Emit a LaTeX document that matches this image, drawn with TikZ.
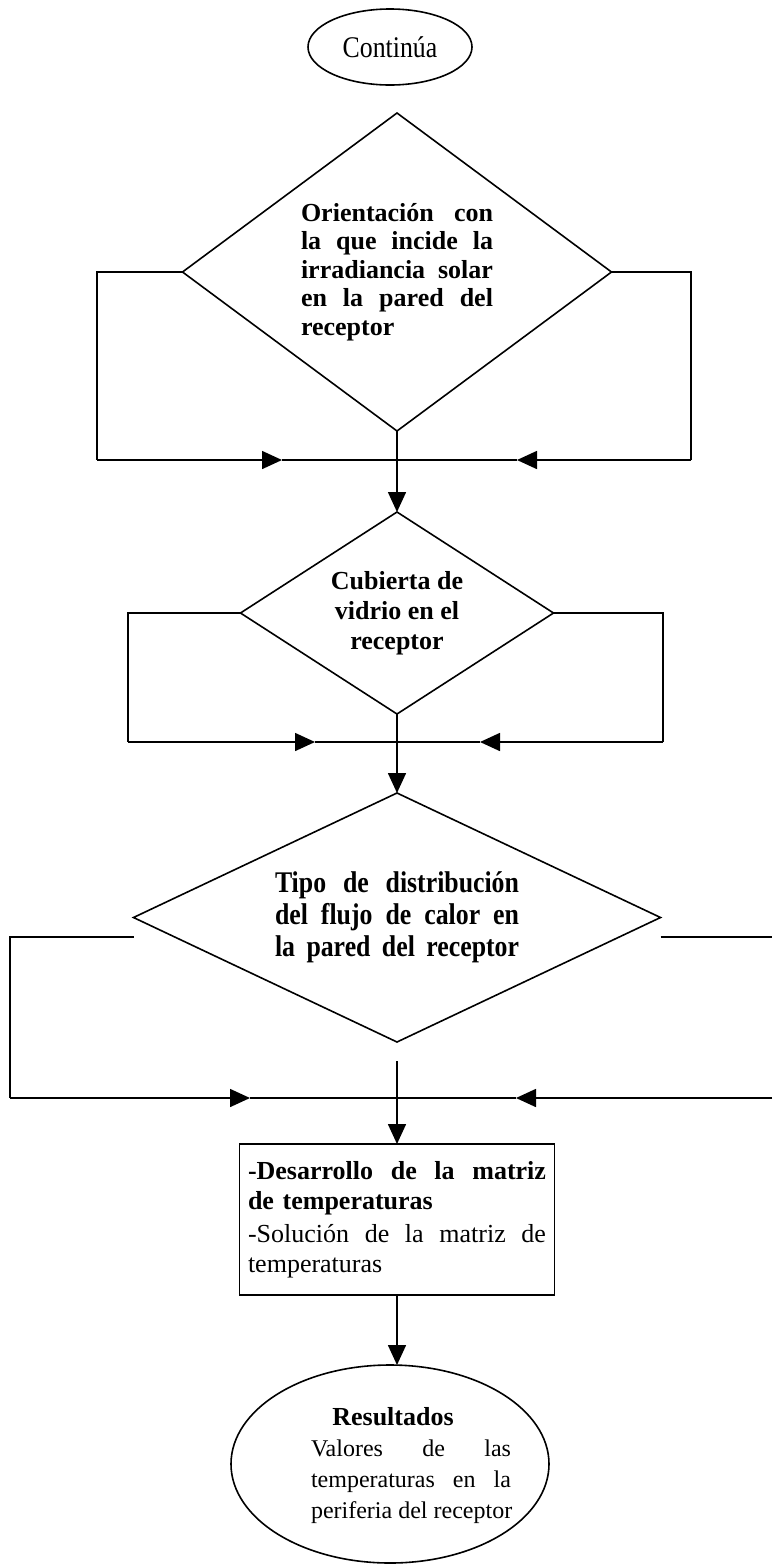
\documentclass[tikz,border=0pt]{standalone}
\usepackage{fontspec}
\setmainfont{Liberation Serif}
\newfontfamily\narrowserif[FakeStretch=0.86]{Liberation Serif}
\usetikzlibrary{shapes.geometric,arrows.meta,calc}
% a line of text spread to a given width (justified line);
% interword glue is made stretchable again inside ragged nodes
\newcommand{\fillline}[2]{{\spaceskip=0pt\xspaceskip=0pt\makebox[#1][s]{#2}}}
\begin{document}
\begin{tikzpicture}[x=0.5pt,y=-0.5pt,
  every node/.style={inner sep=0pt, outer sep=0pt},
  outline/.style={draw, line width=0.8pt},
  decision/.style={outline, diamond, align=center},
  terminal/.style={outline, ellipse, align=center},
  process/.style={outline, rectangle},
  link/.style={line width=0.8pt},
  flow/.style={link, -{Triangle[length=10pt,width=9pt]}}]
\useasboundingbox (0,0) rectangle (772,1564);

% ---- nodes ----
\node[terminal, minimum width=82pt, minimum height=38pt,
      font=\narrowserif\fontsize{15}{17}\selectfont] (start) at (390,47) {Continúa};

\node[decision, minimum width=214.5pt, minimum height=159pt, aspect=1.35,
      font=\bfseries\fontsize{13}{14.25}\selectfont] (d1) at (397,272)
  {\fillline{96pt}{Orientación con}\\
   \fillline{96pt}{la que incide la}\\
   \fillline{96pt}{irradiancia solar}\\
   \fillline{96pt}{en la pared del}\\
   \makebox[96pt][l]{receptor}};

\node[decision, minimum width=156.5pt, minimum height=101pt, aspect=1.55,
      font=\bfseries\fontsize{13}{15}\selectfont] (d2) at (397,613)
  {Cubierta de\\vidrio en el\\receptor};

\node[decision, minimum width=263.5pt, minimum height=124.5pt, aspect=2.12,
      font=\narrowserif\bfseries\fontsize{15}{16}\selectfont] (d3) at (397,917.5)
  {\fillline{122pt}{Tipo de distribución}\\
   \fillline{122pt}{del flujo de calor en}\\
   \fillline{122pt}{la pared del receptor}};

\node[process, text width=149pt, minimum height=75.5pt, inner xsep=4.25pt,
      align=left, font=\fontsize{13}{15}\selectfont] (mbox) at (397,1219.5)
  {\textbf{\fillline{149pt}{-Desarrollo de la matriz}}\\
   \textbf{de temperaturas}\\[1.5pt]
   \fillline{149pt}{-Solución de la matriz de}\\
   temperaturas};

% results terminal and its text block
\node[terminal, minimum width=159pt, minimum height=99pt] (res) at (390,1464) {};
\node[align=center, font=\fontsize{12}{15.5}\selectfont] (restext) at (411,1466)
  {\makebox[100pt][c]{\hspace*{-18pt}\textbf{\fontsize{13}{15.5}\selectfont Resultados}}\\
   \fillline{100pt}{Valores de las}\\
   \fillline{100pt}{temperaturas en la}\\
   \makebox[100pt][l]{periferia del receptor}};

% ---- junctions, corners and mid-line arrow tips ----
\coordinate (c1l) at (97,460);   \coordinate (a1l) at (282,460);
\coordinate (j1)  at (397,460);
\coordinate (a1r) at (517,460);  \coordinate (c1r) at (691,460);

\coordinate (c2l) at (128,742);  \coordinate (a2l) at (315,742);
\coordinate (j2)  at (397,742);
\coordinate (a2r) at (480,742);  \coordinate (c2r) at (663,742);

\coordinate (s3l) at ($(d3.west)+(0,19.5)$);
\coordinate (s3r) at ($(d3.east)+(0,19.5)$);
\coordinate (e3r) at (772,937);
\coordinate (c3l) at (10,1098);  \coordinate (a3l) at (250,1098);
\coordinate (j3)  at (397,1098);
\coordinate (a3r) at (516,1098); \coordinate (c3r) at (772,1098);
\coordinate (o3)  at ($(d3.south)+(0,19)$);

% ---- first decision: both branches rejoin ----
\draw[link] (d1.west) -| (c1l);
\draw[flow] (c1l) -- (a1l);
\draw[link] (a1l) -- (j1);
\draw[link] (d1.east) -| (c1r);
\draw[flow] (c1r) -- (a1r);
\draw[link] (a1r) -- (j1);
\draw[flow] (d1.south) -- (d2.north);

% ---- second decision ----
\draw[link] (d2.west) -| (c2l);
\draw[flow] (c2l) -- (a2l);
\draw[link] (a2l) -- (j2);
\draw[link] (d2.east) -| (c2r);
\draw[flow] (c2r) -- (a2r);
\draw[link] (a2r) -- (j2);
\draw[flow] (d2.south) -- (d3.north);

% ---- third decision ----
\draw[link] (s3l) -| (c3l);
\draw[flow] (c3l) -- (a3l);
\draw[link] (a3l) -- (j3);
\draw[link] (s3r) -- (e3r);
\draw[flow] (c3r) -- (a3r);
\draw[link] (a3r) -- (j3);
\draw[flow] (o3) -- (mbox.north);

% ---- results ----
\draw[flow] (mbox.south) -- (mbox.south |- res.north);
\end{tikzpicture}
\end{document}
